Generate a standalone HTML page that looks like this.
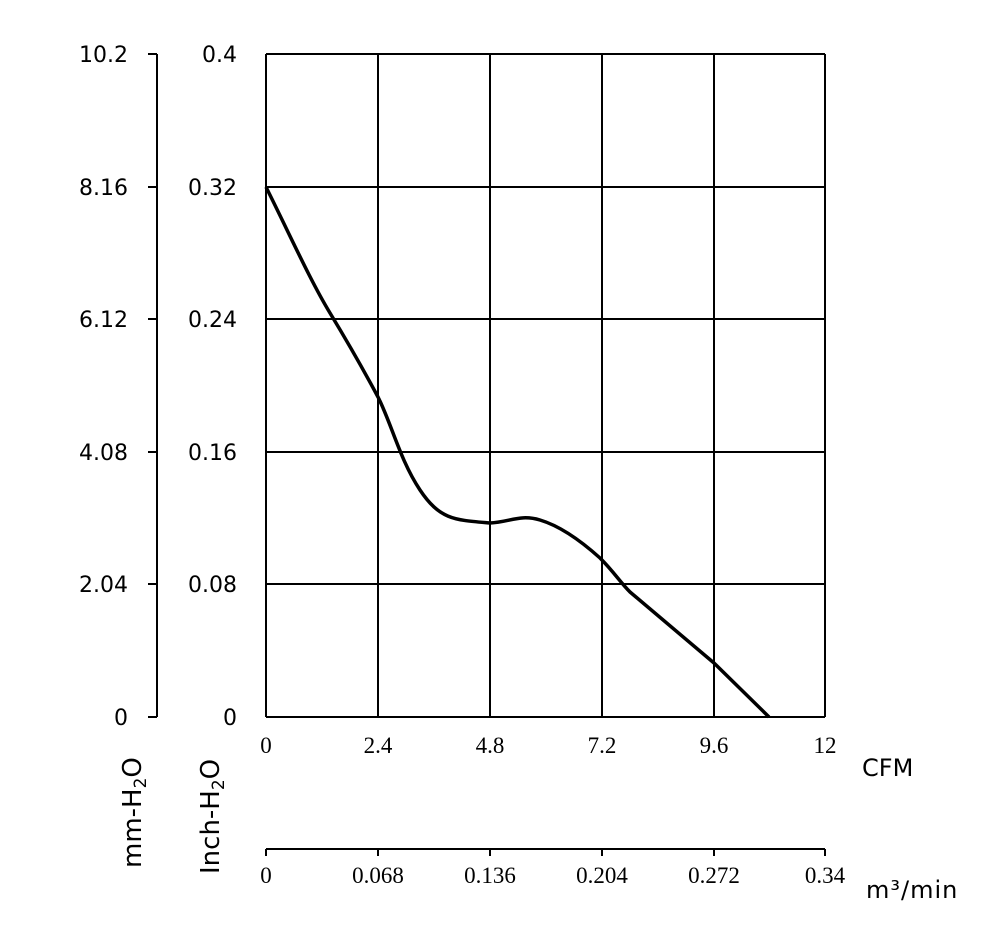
<!DOCTYPE html>
<html><head><style>body{margin:0;background:#fff}svg text{font-family:"DejaVu Sans","Liberation Sans",sans-serif;font-size:22px;fill:#000}.s{font-family:"Liberation Serif",serif!important;font-size:23px!important}</style></head><body>
<svg width="1000" height="927" viewBox="0 0 1000 927">
<g stroke="#000" stroke-width="2" fill="none">
<path d="M266 54H825M266 187H825M266 319H825M266 452H825M266 584H825M266 717H825"/>
<path d="M266 54V717M378 54V717M490 54V717M602 54V717M714 54V717M825 54V717"/>
<path d="M157 54V717M148 54H157M148 187H157M148 319H157M148 452H157M148 584H157M148 717H157"/>
<path d="M266 849H825M266 849V856M378 849V856M490 849V856M602 849V856M714 849V856M825 849V856"/>
<path stroke-width="3.5" stroke-linejoin="round" d="M266 187C290 235 310 280 330 313S370 382 378 397C392 425 400 460 420 490S455 520 490 523C510 522 520 514 540 520S580 540 600 558C614 572 620 582 630 592L714 663L769 717"/>
</g>
<g text-anchor="end">
<text x="128" y="62">10.2</text><text x="128" y="195">8.16</text><text x="128" y="327">6.12</text><text x="128" y="460">4.08</text><text x="128" y="592">2.04</text><text x="128" y="725">0</text>
<text x="237" y="62">0.4</text><text x="237" y="195">0.32</text><text x="237" y="327">0.24</text><text x="237" y="460">0.16</text><text x="237" y="592">0.08</text><text x="237" y="725">0</text>
</g>
<g text-anchor="middle">
<text class="s" x="266" y="753">0</text><text class="s" x="378" y="753">2.4</text><text class="s" x="490" y="753">4.8</text><text class="s" x="602" y="753">7.2</text><text class="s" x="714" y="753">9.6</text><text class="s" x="825" y="753">12</text>
<text class="s" x="266" y="883">0</text><text class="s" x="378" y="883">0.068</text><text class="s" x="490" y="883">0.136</text><text class="s" x="602" y="883">0.204</text><text class="s" x="714" y="883">0.272</text><text class="s" x="825" y="883">0.34</text>
</g>
<text x="862" y="776" style="font-size:24px">CFM</text>
<text x="866" y="898" style="font-size:24px;letter-spacing:1px">m³/min</text>
<text transform="translate(141 868) rotate(-90)" style="font-size:26px">mm-H<tspan font-size="17" dy="5">2</tspan><tspan dy="-5">O</tspan></text>
<text transform="translate(219 874) rotate(-90)" style="font-size:26px">Inch-H<tspan font-size="17" dy="5">2</tspan><tspan dy="-5">O</tspan></text>
</svg>
</body></html>
